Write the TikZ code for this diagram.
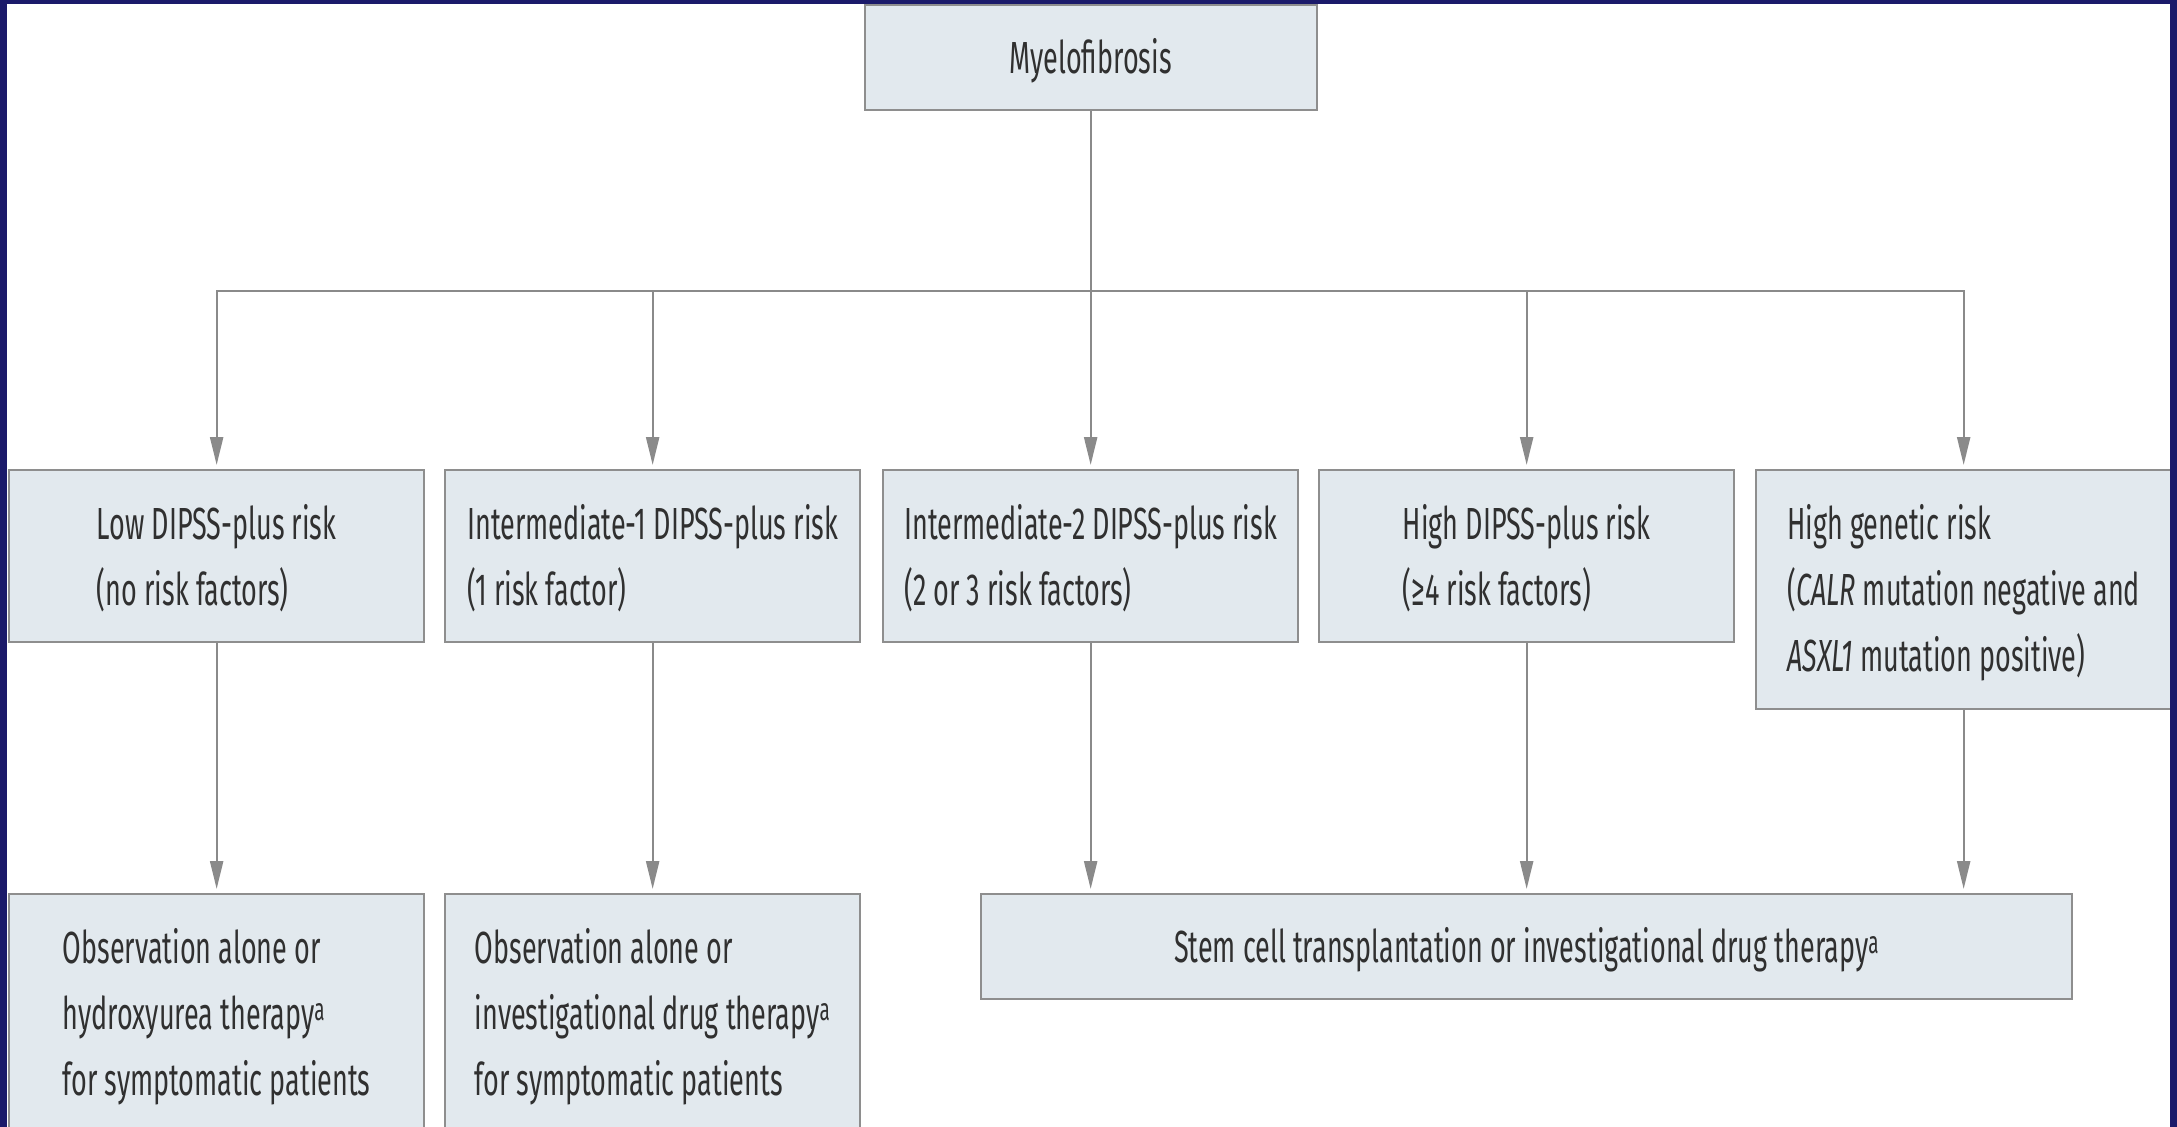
\documentclass[tikz,border=0pt]{standalone}
\usepackage{fontspec}
\setmainfont{Fira Sans}[FakeStretch=0.6]
\usetikzlibrary{arrows.meta}

\definecolor{boxfill}{HTML}{E2E9EE}
\definecolor{boxline}{HTML}{8E8E8E}
\definecolor{wire}{HTML}{8A8A8A}
\definecolor{ink}{HTML}{303030}
\definecolor{framecol}{HTML}{1B1A6A}

% fixed line height so that every text line sits on a 66pt grid
\newcommand\ls{\rule[-17pt]{0pt}{66pt}}

\tikzset{
  box/.style={rectangle, draw=boxline, line width=2.3pt, fill=boxfill,
    inner sep=0pt, text=ink, font=\fontsize{45}{66}\selectfont,
    align=left, anchor=north west},
  riskbox/.style={box, minimum width=415pt, minimum height=172pt},
  tallbox/.style={box, minimum width=415pt, minimum height=239pt},
  wire/.style={draw=wire, line width=2.3pt},
  arrow/.style={wire, -{Triangle[length=28pt,width=13pt]}, shorten >=4pt}
}

\begin{document}
\begin{tikzpicture}[x=1pt, y=-1pt]
  \useasboundingbox (0,0) rectangle (2177,1127);
  \clip (0,0) rectangle (2177,1127);
  \fill[white] (0,0) rectangle (2177,1127);

  % root
  \node[box, minimum width=452pt, minimum height=105pt] (root) at (863.5,4)
    {\ls Myelofibrosis};

  % risk categories
  \node[riskbox] (r2a) at (8,469)
    {\ls Low DIPSS-plus risk\\\ls(no risk factors)};
  \node[riskbox] (r2b) at (444,469)
    {\ls Intermediate-1 DIPSS-plus risk\\\ls(1 risk factor)};
  \node[riskbox] (r2c) at (882,469)
    {\ls Intermediate-2 DIPSS-plus risk\\\ls(2 or 3 risk factors)};
  \node[riskbox] (r2d) at (1318,469)
    {\ls High DIPSS-plus risk\\\ls(≥4 risk factors)};
  \node[tallbox] (r2e) at (1755,469)
    {\ls High genetic risk\\\ls(\textit{CALR} mutation negative and\\\ls\textit{ASXL1} mutation positive)};

  % treatments
  \node[tallbox] (r3a) at (8,893)
    {\ls Observation alone or\\\ls hydroxyurea therapy\textsuperscript{a}\\\ls for symptomatic patients};
  \node[tallbox] (r3b) at (444,893)
    {\ls Observation alone or\\\ls investigational drug therapy\textsuperscript{a}\\\ls for symptomatic patients};
  \node[box, minimum width=1091pt, minimum height=105pt] (r3c) at (980,893)
    {\ls Stem cell transplantation or investigational drug therapy\textsuperscript{a}};

  % distribution bus, straight below the root
  \coordinate (bus) at ([yshift=-180pt]root.south);
  \draw[wire] (root.south) -- (bus);
  \draw[arrow] (bus) -| (r2a.north);
  \draw[arrow] (bus) -| (r2b.north);
  \draw[arrow] (bus) -- (r2c.north);
  \draw[arrow] (bus) -| (r2d.north);
  \draw[arrow] (bus) -| (r2e.north);

  % risk category to treatment
  \draw[arrow] (r2a.south) -- (r3a.north);
  \draw[arrow] (r2b.south) -- (r3b.north);
  \draw[arrow] (r2c.south) -- (r2c.south |- r3c.north);
  \draw[arrow] (r2d.south) -- (r2d.south |- r3c.north);
  \draw[arrow] (r2e.south) -- (r2e.south |- r3c.north);

  % dark frame
  \fill[framecol] (0,0) rectangle (2177,4);
  \fill[framecol] (0,0) rectangle (7,1127);
  \fill[framecol] (2170,0) rectangle (2177,1127);
\end{tikzpicture}
\end{document}
